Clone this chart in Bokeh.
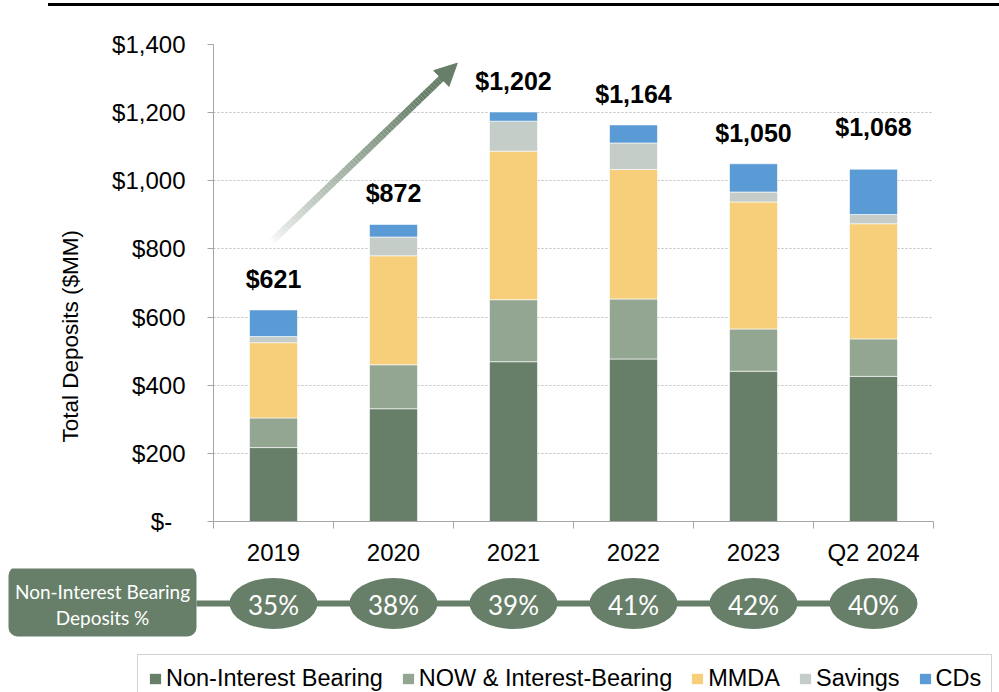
import numpy as np
from bokeh.plotting import figure
from bokeh.models import (Range1d, FixedTicker, Title, Arrow, NormalHead, Legend,
                          LegendItem, ColumnDataSource, Div)
from bokeh.layouts import column
from bokeh.embed import file_html
from bokeh.resources import INLINE
from bokeh.core.properties import value

# ---------------- data ----------------
categories = ["2019", "2020", "2021", "2022", "2023", "Q2 2024"]
series_names = ["Non-Interest Bearing", "NOW & Interest-Bearing", "MMDA", "Savings", "CDs"]
non_interest = [217, 331, 469, 477, 441, 426]
now_interest = [87, 129, 182, 176, 124, 110]
mmda = [221, 320, 436, 380, 373, 338]
savings = [18, 55, 88, 78, 29, 27]
cds = [78, 37, 27, 53, 83, 133]
total_labels = [621, 872, 1202, 1164, 1050, 1068]
nib_pct = [35, 38, 39, 41, 42, 40]
y_ticks = [0, 200, 400, 600, 800, 1000, 1200, 1400]
y_tick_labels = ["$-\u00a0\u00a0", "$200", "$400", "$600", "$800", "$1,000", "$1,200", "$1,400"]

# ---------------- style ----------------
colors = ["#677F69", "#93A691", "#F7CF7B", "#C5CDC9", "#5B9BD5"]
GREEN = "#677F69"
ARIAL = "Liberation Sans"
CAL = "Lato"
AXIS_GRAY = "#A6A6A6"

W = 999
FRAME_LEFT = 213      # x of the plot frame's left edge
PX_PER_CAT = 120      # pixels per category slot

xpos = [i + 0.5 for i in range(len(categories))]

# ---------------- top rule ----------------
H0 = 7
rule = Div(text="", width=W - 48, height=3, margin=(3, 0, 1, 48),
           styles={"background-color": "black"})

# ---------------- main chart ----------------
H1 = 561
p = figure(width=W, height=H1, x_range=Range1d(0, len(categories)), y_range=Range1d(0, 1400),
           min_border_left=FRAME_LEFT, min_border_right=W - FRAME_LEFT - 720,
           min_border_top=44 - H0, min_border_bottom=H1 - (44 - H0) - 478,
           toolbar_location=None, output_backend="svg", outline_line_color=None)
p.frame_align = False

keys = ["nib", "now", "mmda", "sav", "cds"]
source = ColumnDataSource(dict(x=xpos, nib=non_interest, now=now_interest, mmda=mmda,
                               sav=savings, cds=cds))
p.vbar_stack(keys, x="x", width=0.4, color=colors, source=source,
             line_color="white", line_width=1, line_alpha=0.6)

# x axis
p.xaxis.ticker = FixedTicker(ticks=xpos, minor_ticks=list(range(len(categories) + 1)))
p.xaxis.major_label_overrides = {x: c for x, c in zip(xpos, categories)}
p.xaxis.major_tick_out = 0
p.xaxis.major_tick_in = 0
p.xaxis.minor_tick_out = 7
p.xaxis.minor_tick_in = 0
p.xaxis.minor_tick_line_color = AXIS_GRAY
p.xaxis.axis_line_color = AXIS_GRAY
p.xaxis.major_label_standoff = 10
p.xaxis.major_label_text_font = ARIAL
p.xaxis.major_label_text_font_size = "24px"
p.xaxis.major_label_text_color = "black"

# y axis
p.yaxis.ticker = FixedTicker(ticks=y_ticks)
p.yaxis.major_label_overrides = {t: l for t, l in zip(y_ticks, y_tick_labels)}
p.yaxis.major_tick_out = 6
p.yaxis.major_tick_in = 0
p.yaxis.minor_tick_out = 0
p.yaxis.minor_tick_in = 0
p.yaxis.major_tick_line_color = AXIS_GRAY
p.yaxis.axis_line_color = AXIS_GRAY
p.yaxis.major_label_standoff = 22
p.yaxis.major_label_text_font = ARIAL
p.yaxis.major_label_text_font_size = "24px"
p.yaxis.major_label_text_color = "black"

p.xgrid.visible = False
p.ygrid.grid_line_color = "#BFBFBF"
p.ygrid.grid_line_dash = "2 2"
p.ygrid.grid_line_width = 1

p.add_layout(Title(text="Total Deposits ($MM)", align="left", offset=79,
                   text_font=ARIAL, text_font_size="22.5px", text_font_style="normal",
                   text_color="black", standoff=54), "left")

# total labels
p.text(x=xpos, y=total_labels, text=[f"${v:,}" for v in total_labels],
       text_align="center", text_baseline="alphabetic", y_offset=-31,
       text_font=value(ARIAL), text_font_size="25px", text_font_style="bold",
       text_color="black")

# growth arrow (gradient shaft + head)
x_s, y_s = 0.483, 821.0
x_t, y_t = 2.031, 1345.0
ppx = 720 / 6.0
ppy = 478 / 1400.0
dxp, dyp = (x_t - x_s) * ppx, (y_t - y_s) * ppy
L = np.hypot(dxp, dyp)
frac_end = (L - 14) / L
n = 70
ts = np.linspace(0, frac_end, n + 1)
g = np.array([0x67, 0x7F, 0x69], dtype=float)
wcol = np.array([255, 255, 255], dtype=float)
seg_colors = []
for i in range(n):
    tt = (ts[i] + ts[i + 1]) / 2 / frac_end
    k = min(1.0, tt ** 0.7 * 1.1)
    c = wcol * (1 - k) + g * k
    seg_colors.append("#%02x%02x%02x" % tuple(int(round(v)) for v in c))
sx0 = x_s + (x_t - x_s) * ts[:-1]
sy0 = y_s + (y_t - y_s) * ts[:-1]
sx1 = x_s + (x_t - x_s) * ts[1:]
sy1 = y_s + (y_t - y_s) * ts[1:]
p.segment(x0=sx0, y0=sy0, x1=sx1, y1=sy1, line_color=seg_colors, line_width=7,
          line_cap="butt")
hx = x_s + (x_t - x_s) * 0.8
hy = y_s + (y_t - y_s) * 0.8
p.add_layout(Arrow(end=NormalHead(size=22, fill_color=GREEN, line_color=GREEN, line_width=1),
                   x_start=hx, y_start=hy, x_end=x_t, y_end=y_t,
                   line_alpha=0, line_width=0))

# ---------------- percentage row + legend ----------------
Y2 = H0 + H1
H2 = 692 - Y2
p2 = figure(width=W, height=H2,
            x_range=Range1d(-FRAME_LEFT / PX_PER_CAT, (W - FRAME_LEFT) / PX_PER_CAT),
            y_range=Range1d(Y2 + H2, Y2),
            min_border=0, toolbar_location=None, output_backend="svg",
            x_axis_location=None, y_axis_location=None, outline_line_color=None)
p2.frame_align = False
p2.grid.visible = False

box_l = (8 - FRAME_LEFT) / PX_PER_CAT
box_r = (196 - FRAME_LEFT) / PX_PER_CAT
p2.segment(x0=[box_r], y0=[603], x1=[xpos[-1]], y1=[603], line_color=GREEN, line_width=6)
p2.quad(left=[box_l], right=[box_r], top=[566], bottom=[636], fill_color=GREEN,
        line_color=None, border_radius=9)
p2.text(x=[(box_l + box_r) / 2] * 2, y=[591, 617], text=["Non-Interest Bearing", "Deposits %"],
        text_align="center", text_baseline="middle", text_font=value(CAL),
        text_font_size="19px", text_color="white")
p2.ellipse(x=xpos, y=[603] * len(xpos), width=88, height=51, width_units="screen",
           height_units="screen", fill_color=GREEN, line_color=None)
p2.text(x=xpos, y=[604] * len(xpos), text=[f"{v}%" for v in nib_pct],
        text_align="center", text_baseline="middle", text_font=value(CAL),
        text_font_size="26px", text_color="white")

items = []
for name, col in zip(series_names, colors):
    r = p2.quad(left=[-50], right=[-49], top=[0], bottom=[-1], fill_color=col, line_color=None)
    items.append(LegendItem(label=name, renderers=[r]))
legend = Legend(items=items, orientation="horizontal", location=(137, -11),
                glyph_width=14, glyph_height=13, label_standoff=4, spacing=18,
                padding=10, margin=0, label_text_font=ARIAL, label_text_font_size="23.5px",
                label_text_color="black", border_line_color=AXIS_GRAY, border_line_width=1,
                background_fill_color="white", background_fill_alpha=1)
p2.add_layout(legend)

layout = column(rule, p, p2, spacing=0)
open("out.html", "w").write(file_html(layout, INLINE))
